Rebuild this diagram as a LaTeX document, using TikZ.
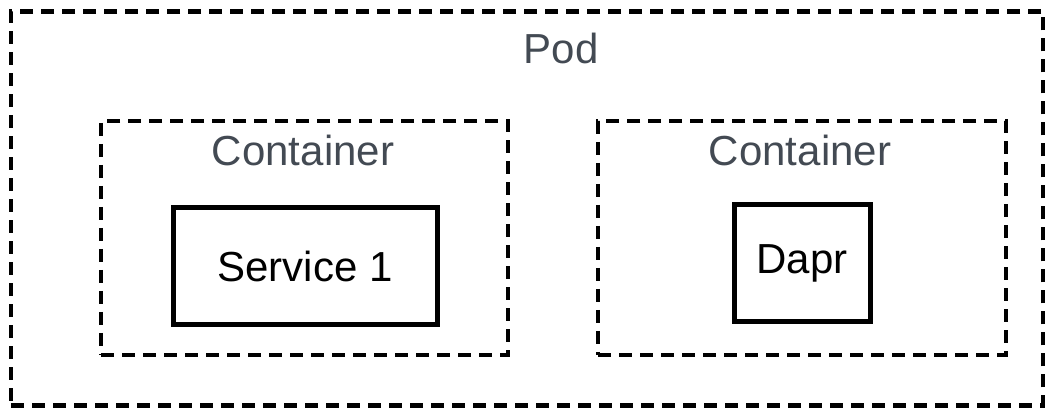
\documentclass[tikz,border=0pt]{standalone}
\usepackage{fontspec}
\setmainfont{Liberation Sans}
\usepackage{xcolor}
\usepackage{tikz}
\usetikzlibrary{positioning}
\definecolor{label}{HTML}{434A53}
\definecolor{edge}{HTML}{000000}
\tikzset{
  groupbox/.style={draw=edge, line width=3.4pt, dash pattern=on 9.75pt off 6pt, inner sep=0pt},
  procbox/.style={draw=edge, line width=3.75pt, inner sep=0pt, text=black, font=\fontsize{31.5}{36}\selectfont},
  grouplabel/.style={text=label, font=\fontsize{31.5}{36}\selectfont}
}

\begin{document}
\begin{tikzpicture}[x=0.75pt, y=-0.75pt]
  \useasboundingbox (0,0) rectangle (1053,409);

  \node[groupbox, minimum width=774pt, minimum height=295.5pt] (pod) at (527,208.5) {};
  \node[grouplabel] (podname) at (561,48) {Pod};

  \node[groupbox, minimum width=305.25pt, minimum height=175.5pt] (appbox) at (304.5,238) {};
  \node[groupbox, minimum width=306pt, minimum height=175.5pt] (sidebox) at (802,238) {};

  \node[grouplabel] (appname) at (303,150) {Container};
  \node[grouplabel] (sidename) at (800,150) {Container};

  \node[procbox, minimum width=198pt, minimum height=87.75pt] (svc) at (305,266.5) {Service 1};
  \node[procbox, minimum width=102pt, minimum height=87.75pt] (dapr) at (802,263.5) {Dapr};
\end{tikzpicture}
\end{document}
